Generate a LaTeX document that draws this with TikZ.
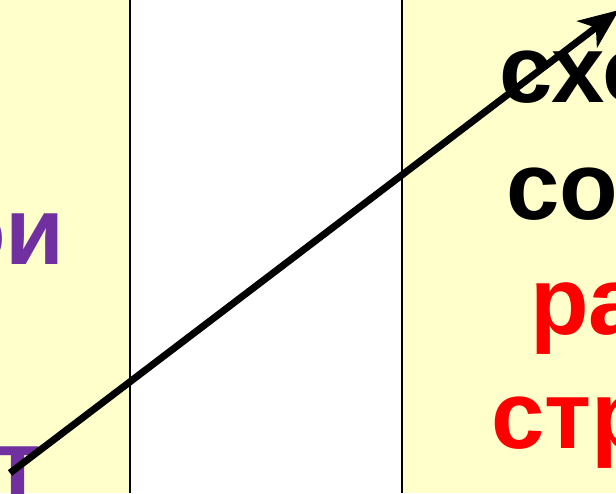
\documentclass[tikz,border=0pt]{standalone}
\usepackage{fontspec}
\setmainfont{Liberation Sans}
\usepackage{xcolor}
\usepackage{tikz}
\usetikzlibrary{arrows.meta,positioning}
\definecolor{paleyellow}{HTML}{FFFFCC}
\definecolor{slidepurple}{HTML}{7030A0}
\definecolor{slidered}{HTML}{FF0000}

\begin{document}
\begin{tikzpicture}[x=1pt,y=1pt,
  word/.style={inner sep=0pt,anchor=base west,font=\fontsize{96}{115}\selectfont\bfseries},
  wordl/.style={word,anchor=base east,text=slidepurple},
  panel/.style={fill=paleyellow,draw=none},
  sep/.style={draw=black,line width=1.5pt},
  arr/.style={-{Stealth[length=40pt,width=33pt,inset=11pt]},line width=7pt}]
\useasboundingbox (0,0) rectangle (616,493);
\clip (0,0) rectangle (616,493);
\fill[white] (0,0) rectangle (616,493);
\path[panel] (0,0) rectangle (130,493);
\path[panel] (402,0) rectangle (616,493);
\draw[sep] (130,0) -- (130,493);
\draw[sep] (402,0) -- (402,493);
% left column
\node[wordl] (l1) at (65,228) {ои};
\node[wordl] (l2) at (42,-4) {т};
% right column
\node[word] (r1) at (499,390) {схо};
\node[word] (r2) at (506,273) {со};
\node[word,text=slidered] (r3) at (530,158) {ра};
\node[word,text=slidered] (r4) at (491,45) {стр};
% arrow
\coordinate (from) at (10,20);
\coordinate (to) at (619,483);
\draw[arr] (from) -- (to);
\end{tikzpicture}
\end{document}
